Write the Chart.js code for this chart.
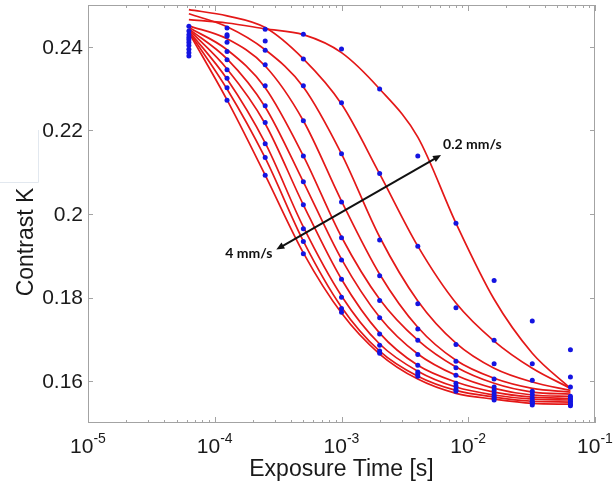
<!DOCTYPE html>
<html>
<head>
<meta charset="utf-8">
<script src="https://cdn.jsdelivr.net/npm/chart.js@4.4.1/dist/chart.umd.min.js"></script>
<style>
html, body { margin: 0; padding: 0; background: #fff; }
</style>
</head>
<body>
<canvas id="myChart" width="613" height="486"></canvas>
<script>
// exposure times [s]
var exposure = [6.25e-5, 1.25e-4, 2.5e-4, 5e-4, 1e-3, 2e-3, 4e-3, 8e-3, 1.6e-2, 3.2e-2, 6.4e-2];
var yTicks = [0.16, 0.18, 0.2, 0.22, 0.24];
var xDecades = [1e-5, 1e-4, 1e-3, 1e-2, 1e-1];

// fitted curves, slowest (0.2 mm/s) to fastest (4 mm/s)
var fit1  = [0.2465, 0.2457, 0.2443, 0.2429, 0.2386, 0.2299, 0.2184, 0.1978, 0.1796, 0.1667, 0.1583];
var fit2  = [0.2489, 0.2474, 0.2446, 0.2371, 0.2263, 0.2096, 0.1923, 0.1787, 0.1696, 0.1631, 0.1583];
var fit3  = [0.2479, 0.2448, 0.2393, 0.2304, 0.2144, 0.1945, 0.1792, 0.1691, 0.1631, 0.1598, 0.1578];
var fit4  = [0.2450, 0.2419, 0.2354, 0.2223, 0.2031, 0.1856, 0.1729, 0.1650, 0.1607, 0.1583, 0.1574];
var fit5  = [0.2446, 0.2393, 0.2302, 0.2139, 0.1945, 0.1796, 0.1698, 0.1634, 0.1595, 0.1574, 0.1569];
var fit6  = [0.2443, 0.2371, 0.2256, 0.2077, 0.1892, 0.1753, 0.1665, 0.1614, 0.1583, 0.1567, 0.1564];
var fit7  = [0.2441, 0.2347, 0.2216, 0.2022, 0.1844, 0.1715, 0.1638, 0.1598, 0.1574, 0.1562, 0.1559];
var fit8  = [0.2438, 0.2323, 0.2170, 0.1969, 0.1804, 0.1689, 0.1624, 0.1586, 0.1567, 0.1557, 0.1555];
var fit9  = [0.2436, 0.2299, 0.2134, 0.1935, 0.1777, 0.1672, 0.1612, 0.1578, 0.1562, 0.1552, 0.1550];
var fit10 = [0.2434, 0.2273, 0.2093, 0.1907, 0.1763, 0.1665, 0.1605, 0.1571, 0.1557, 0.1547, 0.1545];

// measured contrast
var meas1  = [0.2449, 0.2445, 0.2442, 0.2430, 0.2395, 0.2299, 0.2139, 0.1978, 0.1841, 0.1744, 0.1675];
var meas2  = [0.2438, 0.2429, 0.2414, 0.2371, 0.2266, 0.2097, 0.1923, 0.1776, 0.1698, 0.1642, 0.1610];
var meas3  = [0.2429, 0.2425, 0.2392, 0.2307, 0.2144, 0.1938, 0.1785, 0.1688, 0.1642, 0.1602, 0.1586];
var meas4  = [0.2422, 0.2411, 0.2357, 0.2223, 0.2029, 0.1852, 0.1725, 0.1648, 0.1605, 0.1576, 0.1564];
var meas5  = [0.2417, 0.2389, 0.2307, 0.2139, 0.1943, 0.1793, 0.1698, 0.1632, 0.1586, 0.1568, 0.1560];
var meas6  = [0.2410, 0.2369, 0.2259, 0.2077, 0.1890, 0.1752, 0.1664, 0.1614, 0.1578, 0.1560, 0.1556];
var meas7  = [0.2403, 0.2345, 0.2219, 0.2022, 0.1844, 0.1713, 0.1638, 0.1595, 0.1570, 0.1552, 0.1552];
var meas8  = [0.2394, 0.2325, 0.2168, 0.1965, 0.1801, 0.1686, 0.1622, 0.1588, 0.1564, 0.1550, 0.1548];
var meas9  = [0.2386, 0.2302, 0.2135, 0.1934, 0.1774, 0.1672, 0.1617, 0.1580, 0.1559, 0.1547, 0.1544];
var meas10 = [0.2378, 0.2272, 0.2093, 0.1905, 0.1765, 0.1667, 0.1612, 0.1576, 0.1555, 0.1543, 0.1541];

// arrow annotation (data coords)
var arrowFast = [3.06e-4, 0.1915];
var arrowSlow = [6.1e-3, 0.2141];

var fits = [fit1, fit2, fit3, fit4, fit5, fit6, fit7, fit8, fit9, fit10];
var meas = [meas1, meas2, meas3, meas4, meas5, meas6, meas7, meas8, meas9, meas10];

var font = '"Liberation Sans", Arial, sans-serif';
var datasets = [];
fits.forEach(function(f) {
    datasets.push({
        data: exposure.map(function(t, j) { return {x: t, y: f[j]}; }),
        borderColor: 'rgb(228,24,24)',
        borderWidth: 1.7,
        pointRadius: 0,
        fill: false,
        cubicInterpolationMode: 'monotone',
        order: 2
    });
});
meas.forEach(function(m) {
    datasets.push({
        data: exposure.map(function(t, j) { return {x: t, y: m[j]}; }),
        showLine: false,
        pointRadius: 2.5,
        pointBorderWidth: 0,
        pointBackgroundColor: 'rgb(20,20,225)',
        order: 1
    });
});

var axesPlugin = {
    id: 'axesPlugin',
    beforeDatasetsDraw: function(chart) {
        var ctx = chart.ctx, a = chart.chartArea, xs = chart.scales.x, ys = chart.scales.y;
        ctx.save();
        ctx.strokeStyle = '#a3a3a3';
        ctx.lineWidth = 1;
        ctx.strokeRect(a.left + 0.5, a.top + 0.5, a.right - a.left - 1, a.bottom - a.top - 1);
        ctx.beginPath();
        xDecades.forEach(function(d, i) {
            var px = Math.round(xs.getPixelForValue(d)) + 0.5;
            ctx.moveTo(px, a.bottom); ctx.lineTo(px, a.bottom - 6);
            ctx.moveTo(px, a.top); ctx.lineTo(px, a.top + 6);
            if (i < xDecades.length - 1) {
                for (var k = 2; k < 10; k++) {
                    var mx = Math.round(xs.getPixelForValue(d * k)) + 0.5;
                    ctx.moveTo(mx, a.bottom); ctx.lineTo(mx, a.bottom - 3);
                    ctx.moveTo(mx, a.top); ctx.lineTo(mx, a.top + 3);
                }
            }
        });
        yTicks.forEach(function(v) {
            var py = Math.round(ys.getPixelForValue(v)) + 0.5;
            ctx.moveTo(a.left, py); ctx.lineTo(a.left + 5, py);
            ctx.moveTo(a.right, py); ctx.lineTo(a.right - 5, py);
        });
        ctx.stroke();

        // faint box left of the axis
        ctx.strokeStyle = '#e2e8ef';
        ctx.beginPath();
        ctx.moveTo(38.5, 130); ctx.lineTo(38.5, 182.5); ctx.lineTo(0, 182.5);
        ctx.stroke();
        ctx.restore();
    },
    afterDraw: function(chart) {
        var ctx = chart.ctx, a = chart.chartArea, xs = chart.scales.x, ys = chart.scales.y;
        ctx.save();
        ctx.fillStyle = '#1a1a1a';
        // y tick labels
        ctx.font = '21px ' + font;
        ctx.textAlign = 'right';
        ctx.textBaseline = 'middle';
        yTicks.forEach(function(v) {
            ctx.fillText(String(v), a.left - 5, ys.getPixelForValue(v) + 1);
        });
        ctx.textAlign = 'left';
        ctx.textBaseline = 'alphabetic';
        // x tick labels 10^n
        xDecades.forEach(function(d) {
            var px = xs.getPixelForValue(d);
            var ex = String(Math.round(Math.log10(d)));
            ctx.font = '21px ' + font;
            var w1 = ctx.measureText('10').width;
            ctx.font = '14px ' + font;
            var w2 = ctx.measureText(ex).width;
            var x0 = px - (w1 + w2) / 2;
            ctx.font = '21px ' + font;
            ctx.fillText('10', x0, a.bottom + 30);
            ctx.font = '14px ' + font;
            ctx.fillText(ex, x0 + w1, a.bottom + 20);
        });
        // axis titles
        ctx.font = '23px ' + font;
        ctx.textAlign = 'center';
        ctx.fillText('Exposure Time [s]', (a.left + a.right) / 2, a.bottom + 53);
        ctx.save();
        ctx.translate(33, (a.top + a.bottom) / 2 + 28);
        ctx.rotate(-Math.PI / 2);
        ctx.fillText('Contrast K', 0, 0);
        ctx.restore();

        // double arrow
        var x1 = xs.getPixelForValue(arrowFast[0]), y1 = ys.getPixelForValue(arrowFast[1]);
        var x2 = xs.getPixelForValue(arrowSlow[0]), y2 = ys.getPixelForValue(arrowSlow[1]);
        var ang = Math.atan2(y2 - y1, x2 - x1);
        ctx.strokeStyle = '#111';
        ctx.fillStyle = '#111';
        ctx.lineWidth = 2;
        ctx.beginPath();
        ctx.moveTo(x1 + 5 * Math.cos(ang), y1 + 5 * Math.sin(ang));
        ctx.lineTo(x2 - 5 * Math.cos(ang), y2 - 5 * Math.sin(ang));
        ctx.stroke();
        function head(x, y, a2) {
            ctx.beginPath();
            ctx.moveTo(x, y);
            ctx.lineTo(x - 8 * Math.cos(a2) + 3.5 * Math.sin(a2), y - 8 * Math.sin(a2) - 3.5 * Math.cos(a2));
            ctx.lineTo(x - 8 * Math.cos(a2) - 3.5 * Math.sin(a2), y - 8 * Math.sin(a2) + 3.5 * Math.cos(a2));
            ctx.closePath();
            ctx.fill();
        }
        head(x2, y2, ang);
        head(x1, y1, ang + Math.PI);
        ctx.font = 'bold 14px Lato, "Open Sans", sans-serif';
        ctx.textBaseline = 'middle';
        ctx.textAlign = 'right';
        ctx.fillText('4 mm/s', x1 - 4, y1 + 4);
        ctx.textAlign = 'left';
        ctx.fillText('0.2 mm/s', x2 + 2, y2 - 11);
        ctx.restore();
    }
};

var ctx = document.getElementById('myChart').getContext('2d');
var myChart = new Chart(ctx, {
    type: 'line',
    data: { datasets: datasets },
    options: {
        responsive: false,
        animation: false,
        devicePixelRatio: 1,
        layout: { padding: { top: 5, right: 18, bottom: 0, left: 0 } },
        plugins: { legend: { display: false }, tooltip: { enabled: false } },
        scales: {
            x: {
                type: 'logarithmic',
                min: 1e-5,
                max: 1e-1,
                ticks: { display: false },
                grid: { display: false, drawTicks: false },
                border: { display: false },
                afterFit: function(s) { s.height = 63; }
            },
            y: {
                type: 'linear',
                min: 0.15,
                max: 0.25,
                ticks: { display: false },
                grid: { display: false, drawTicks: false },
                border: { display: false },
                afterFit: function(s) { s.width = 88; }
            }
        }
    },
    plugins: [axesPlugin]
});
</script>
</body>
</html>
